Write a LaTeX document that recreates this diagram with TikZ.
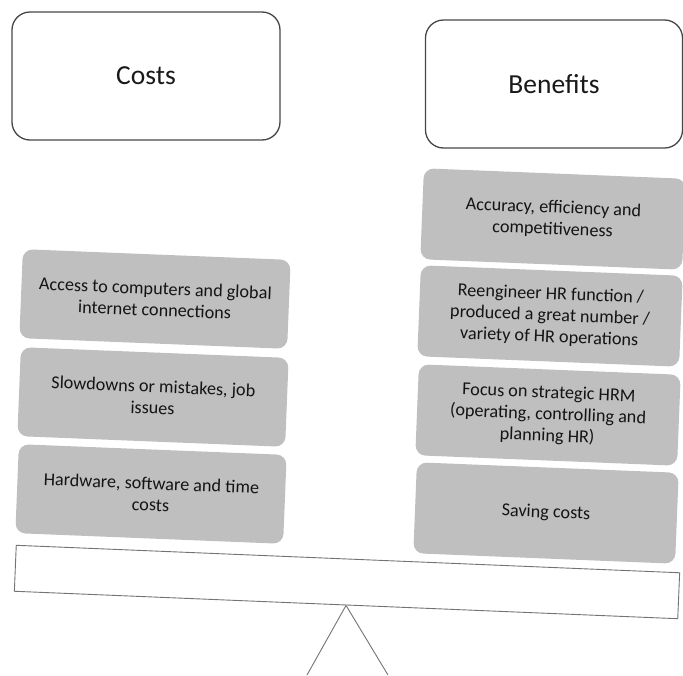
\documentclass[tikz,border=0pt]{standalone}
\usepackage{fontspec}
\setmainfont{Carlito}
\begin{document}
\begin{tikzpicture}[x=1pt,y=-1pt,
  header/.style={draw=black!72, line width=1.3pt, fill=white, rounded corners=18pt,
    minimum height=128pt, inner sep=0pt, text=black!90,
    font=\fontsize{27.5}{32}\selectfont},
  item/.style={fill=black!25, rounded corners=10pt, rotate=-2.3, align=center,
    inner sep=0pt, text=black!92, font=\fontsize{18.2}{21.5}\selectfont},
  costitem/.style={item, minimum width=268pt, minimum height=89pt},
  benefititem/.style={item, minimum width=262pt, minimum height=91pt},
  plankbox/.style={draw=black!55, line width=0.9pt, fill=white, inner sep=0pt},
  leg/.style={draw=black!55, line width=0.9pt}
]
\useasboundingbox (0,0) rectangle (683,675);

% column headings
\node[header, minimum width=268pt] (costs) at (146,76) {Costs};
\node[header, minimum width=257pt] (benefits) at (554,84) {Benefits};

% the balance beam and its pivot
\node[plankbox, minimum width=664pt, minimum height=46pt, rotate=-2.37] (plank) at (347,582) {};
\coordinate (footL) at (307,675);
\coordinate (footR) at (388,675);
\draw[leg] (footL) -- (plank.south) -- (footR);

% costs side
\node[costitem] (c1) at (155,299) {Access to computers and global\\internet connections};
\node[costitem] (c2) at (153,397) {Slowdowns or mistakes, job\\issues};
\node[costitem] (c3) at (151,494) {Hardware, software and time\\costs};

% benefits side
\node[benefititem] (b1) at (553,219) {Accuracy, efficiency and\\competitiveness};
\node[benefititem] (b2) at (550,316) {Reengineer HR function /\\produced a great number /\\variety of HR operations};
\node[benefititem] (b3) at (548,415) {Focus on strategic HRM\\(operating, controlling and\\planning HR)};
\node[benefititem] (b4) at (546,513) {Saving costs};
\end{tikzpicture}
\end{document}
